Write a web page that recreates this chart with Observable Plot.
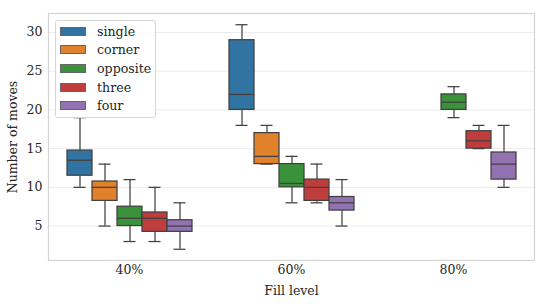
<!DOCTYPE html>
<html>
<head>
<meta charset="utf-8">
<script src="https://cdn.jsdelivr.net/npm/d3@7"></script>
<script src="https://cdn.jsdelivr.net/npm/@observablehq/plot@0.6"></script>
<style>
  html, body { margin: 0; padding: 0; background: #fff; }
  #wrap { position: relative; width: 545px; height: 307px; font-family: "DejaVu Serif", serif; }
  #legend { position: absolute; left: 55px; top: 20px; width: 101px; height: 98px; box-sizing: border-box;
    border: 1px solid #d6d6d6; border-radius: 3px; background: rgba(255,255,255,0.85); }
  .item { position: absolute; left: 4px; height: 12px; display: flex; align-items: center; font-size: 12.6px; color: #262626; }
  .sw { width: 26px; height: 9px; box-sizing: border-box; border: 1px solid #666; margin-right: 11px; }
</style>
</head>
<body>
<div id="wrap"><div id="legend"></div></div>
<script>
const fills = ["40%", "60%", "80%"];
const hues = ["single", "corner", "opposite", "three", "four"];
const colors = ["#3274a1", "#e1812c", "#3a923a", "#c03d3e", "#9372b2"];
const yTicks = [5, 10, 15, 20, 25, 30];
// [fill, hue, min, q1, median, q3, max]
const stats = [
  ["40%", "single", 10, 11.5, 13.5, 14.75, 19],
  ["40%", "corner", 5, 8.25, 10, 10.75, 13],
  ["40%", "opposite", 3, 5, 6, 7.5, 11],
  ["40%", "three", 3, 4.25, 6, 6.75, 10],
  ["40%", "four", 2, 4.25, 5, 5.75, 8],
  ["60%", "single", 18, 20, 22, 29, 31],
  ["60%", "corner", 13, 13, 14, 17, 18],
  ["60%", "opposite", 8, 10, 10.5, 13, 14],
  ["60%", "three", 8, 8.25, 10, 11, 13],
  ["60%", "four", 5, 7, 8, 8.75, 11],
  ["80%", "opposite", 19, 20, 21, 22, 23],
  ["80%", "three", 15, 15, 16, 17.25, 18],
  ["80%", "four", 10, 11, 13, 14.5, 18]
];
const data = stats.map(([fill, hue, min, q1, med, q3, max]) => ({fill, hue, min, q1, med, q3, max}));

const edge = "#404040";
const plot = Plot.plot({
  width: 545,
  height: 307,
  marginLeft: 47,
  marginRight: 10,
  marginTop: 13,
  marginBottom: 47,
  style: {fontFamily: "DejaVu Serif, serif", fontSize: "12.5px", color: "#262626", background: "transparent"},
  fx: {domain: fills, padding: 0, label: "Fill level", labelArrow: "none", labelAnchor: "center", tickSize: 0, tickPadding: 5, labelOffset: 34},
  x: {domain: hues, type: "band", paddingInner: 0.02, paddingOuter: 0.63, axis: null},
  y: {domain: [0.55, 32.45], ticks: yTicks, tickSize: 0, tickPadding: 6, label: "Number of moves", labelArrow: "none", labelAnchor: "center", labelOffset: 40},
  color: {domain: hues, range: colors},
  marks: [
    Plot.gridY(yTicks, {stroke: "#ebebeb", strokeWidth: 1, strokeOpacity: 1}),
    Plot.frame({stroke: "#d4d4d4", strokeWidth: 1.25, facet: "super"}),
    Plot.ruleX(data, {fx: "fill", x: "hue", y1: "min", y2: "q1", stroke: edge, strokeWidth: 1.25}),
    Plot.ruleX(data, {fx: "fill", x: "hue", y1: "q3", y2: "max", stroke: edge, strokeWidth: 1.25}),
    Plot.tickY(data, {fx: "fill", x: "hue", y: "min", stroke: edge, strokeWidth: 1.25, insetLeft: 6.5, insetRight: 6.5}),
    Plot.tickY(data, {fx: "fill", x: "hue", y: "max", stroke: edge, strokeWidth: 1.25, insetLeft: 6.5, insetRight: 6.5}),
    Plot.barY(data, {fx: "fill", x: "hue", y1: "q1", y2: "q3", fill: "hue", stroke: edge, strokeWidth: 1.25}),
    Plot.tickY(data, {fx: "fill", x: "hue", y: "med", stroke: edge, strokeWidth: 1.25})
  ]
});
document.getElementById("wrap").prepend(plot);

const legend = document.getElementById("legend");
hues.forEach((h, i) => {
  const d = document.createElement("div");
  d.className = "item";
  d.style.top = (4 + i * 18.7) + "px";
  d.innerHTML = `<span class="sw" style="background:${colors[i]}"></span><span>${h}</span>`;
  legend.appendChild(d);
});
</script>
</body>
</html>
